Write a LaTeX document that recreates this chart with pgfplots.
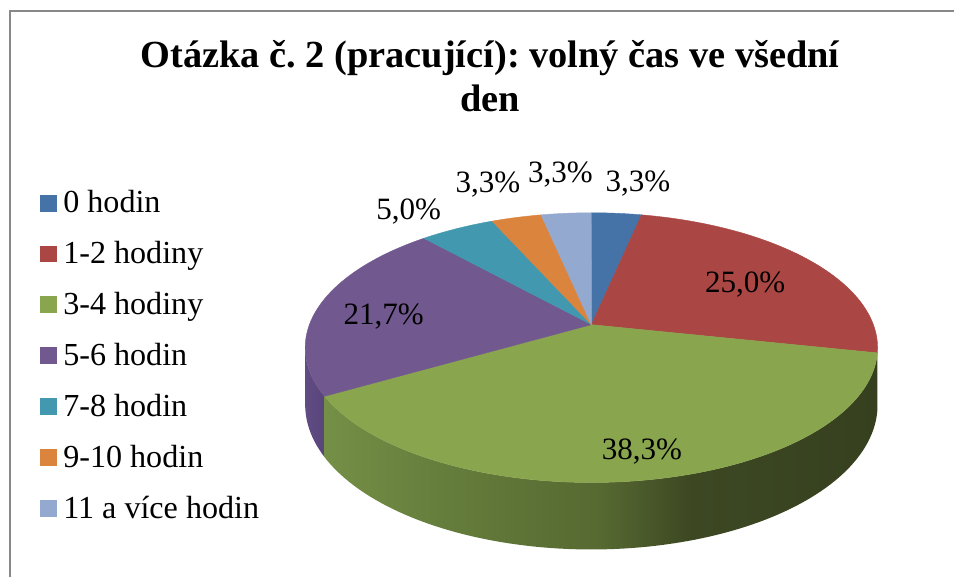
\documentclass[border=0pt]{standalone}
\usepackage{fontspec}
\setmainfont{Liberation Serif}
\usepackage{pgfplots}
\usepackage{pgfplotstable}
\pgfplotsset{compat=1.18}
\frenchspacing

\definecolor{c1}{HTML}{4572A7}
\definecolor{c2}{HTML}{AA4643}
\definecolor{c3}{HTML}{89A54E}
\definecolor{c4}{HTML}{71588F}
\definecolor{c5}{HTML}{4198AF}
\definecolor{c6}{HTML}{DB843D}
\definecolor{c7}{HTML}{93A9CF}
\definecolor{gw1}{HTML}{748F46}
\definecolor{gw2}{HTML}{657D3C}
\definecolor{gw3}{HTML}{566931}
\definecolor{gw4}{HTML}{3D4823}
\definecolor{gw5}{HTML}{36401F}
\definecolor{rw}{HTML}{5C2423}
\definecolor{pw1}{HTML}{604C83}
\definecolor{pw2}{HTML}{58457A}
\definecolor{bw}{HTML}{2E4466}
\definecolor{frame}{HTML}{888888}

\pgfdeclarehorizontalshading{wall1}{100bp}{color(0bp)=(bw); color(100bp)=(bw)}
\pgfdeclarehorizontalshading{wall2}{100bp}{color(0bp)=(rw); color(100bp)=(rw)}
\pgfdeclarehorizontalshading{wall3}{100bp}{color(0bp)=(gw1); color(25bp)=(gw1); color(36bp)=(gw2); color(50bp)=(gw3); color(58bp)=(gw4); color(75bp)=(gw5); color(100bp)=(gw5)}
\pgfdeclarehorizontalshading{wall4}{100bp}{color(0bp)=(pw1); color(25bp)=(pw1); color(75bp)=(pw2); color(100bp)=(pw2)}
\pgfdeclarehorizontalshading{wall5}{100bp}{color(0bp)=(bw); color(100bp)=(bw)}
\pgfdeclarehorizontalshading{wall6}{100bp}{color(0bp)=(bw); color(100bp)=(bw)}
\pgfdeclarehorizontalshading{wall7}{100bp}{color(0bp)=(bw); color(100bp)=(bw)}

% share of respondents (percent), in the order of the legend
\pgfplotstableread[col sep=comma]{
label,pct,col,wall
0 hodin,3.33,c1,wall1
1-2 hodiny,25.00,c2,wall2
3-4 hodiny,38.33,c3,wall3
5-6 hodin,21.67,c4,wall4
7-8 hodin,5.00,c5,wall5
9-10 hodin,3.33,c6,wall6
11 a více hodin,3.33,c7,wall7
}\piedata

\begin{document}
\begin{tikzpicture}
\begin{axis}[
  width=716.25pt, height=433.5pt, scale only axis,
  xmin=0, xmax=955, ymin=0, ymax=578,
  hide axis, clip=false,
  declare function={
    px(\p)=592+282.3*sin(\p)/(1+0.1704*cos(\p));
    py(\p)=253+131.1*cos(\p)/(1+0.1704*cos(\p));
    wphi(\t,\a,\b)=(\t<1.005)*(\a+(\b-\a)*min(\t,1))+(\t>=1.005)*(\b-(\b-\a)*max(0,min(1,(\t-1.01)/0.99)));
    wy(\t,\a,\b)=py(wphi(\t,\a,\b))-(\t>=1.005)*55.6/(1+0.1704*cos(wphi(\t,\a,\b)));
  },
  legend style={at={(axis cs:40,387.7)}, anchor=north west, draw=none, fill=none,
    inner sep=0pt, outer sep=0pt,
    font=\fontsize{24.1pt}{28pt}\selectfont, row sep=16.25pt,
    nodes={inner sep=0pt, text height=17pt, text depth=5pt},
    /tikz/every odd column/.append style={column sep=5.25pt}},
  legend cell align=left,
  legend image code/.code={\fill[#1] (0pt,-4.5pt) rectangle (12pt,7.5pt);},
]
% frame of the chart area
\draw[frame, line width=1.5pt] (axis cs:10.5,0) -- (axis cs:10.5,566.5) -- (axis cs:955,566.5);

% side walls (front part only)
\def\cum{0}
\pgfplotsforeachungrouped \i in {0,...,6}{%
  \pgfplotstablegetelem{\i}{pct}\of\piedata \let\v\pgfplotsretval
  \pgfplotstablegetelem{\i}{wall}\of\piedata \let\w\pgfplotsretval
  \pgfmathsetmacro\sa{3.6*\cum}%
  \pgfmathsetmacro\cum{\cum+\v}%
  \pgfmathsetmacro\sb{3.6*\cum}%
  \pgfmathsetmacro\wa{max(\sa,99.8)}%
  \pgfmathsetmacro\wb{min(\sb,260.2)}%
  \pgfmathtruncatemacro\vis{\wa<\wb}%
  \ifnum\vis=1
    \edef\temp{\noexpand\addplot[forget plot, draw=none, shade, shading=\w, domain=0:2, samples=201, variable=\noexpand\t]
      ({px(wphi(\noexpand\t,\wa,\wb))},{wy(\noexpand\t,\wa,\wb)});}%
    \temp
  \fi
}

% top faces of the slices
\def\cum{0}
\pgfplotsforeachungrouped \i in {0,...,6}{%
  \pgfplotstablegetelem{\i}{pct}\of\piedata \let\v\pgfplotsretval
  \pgfplotstablegetelem{\i}{col}\of\piedata \let\c\pgfplotsretval
  \pgfplotstablegetelem{\i}{label}\of\piedata \let\lab\pgfplotsretval
  \pgfmathsetmacro\sa{3.6*\cum}%
  \pgfmathsetmacro\cum{\cum+\v}%
  \pgfmathsetmacro\sb{3.6*\cum}%
  \edef\temp{\noexpand\addplot[fill=\c, draw=\c, line width=0.3pt, domain=\sa:\sb, samples=80, variable=\noexpand\t]
      ({px(\noexpand\t)},{py(\noexpand\t)}) -- (axis cs:592,253) -- cycle;
    \noexpand\addlegendentry{\lab}}%
  \temp
}

% title
\node[anchor=base, font=\fontsize{28.8pt}{33pt}\selectfont\bfseries] at (axis cs:490.5,510) {Otázka č. 2 (pracující): volný čas ve všední};
\node[anchor=base, font=\fontsize{28.8pt}{33pt}\selectfont\bfseries] at (axis cs:490.5,466) {den};

% data labels
\begin{scope}[every node/.style={anchor=base, font=\fontsize{23.3pt}{27pt}\selectfont, inner sep=0pt}]
\node at (axis cs:638.5,386) {3,3\%};
\node at (axis cs:746,285) {25,0\%};
\node at (axis cs:642.5,118) {38,3\%};
\node at (axis cs:384,253) {21,7\%};
\node at (axis cs:409,358) {5,0\%};
\node at (axis cs:488.5,385) {3,3\%};
\node at (axis cs:561,395) {3,3\%};
\end{scope}
\path (axis cs:0,0) rectangle (axis cs:955,578);
\end{axis}
\end{tikzpicture}
\end{document}
